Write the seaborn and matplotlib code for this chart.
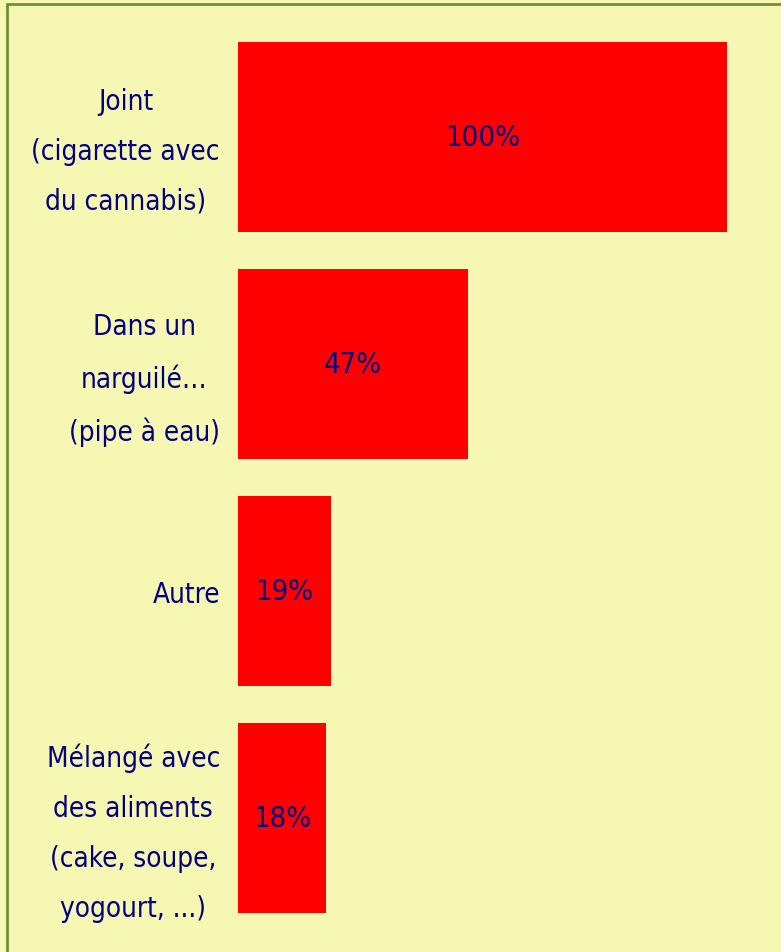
import matplotlib
matplotlib.use("Agg")
import matplotlib.pyplot as plt
from matplotlib import font_manager
import seaborn as sns
import pandas as pd
from matplotlib.patches import Rectangle

categories = [
    "Joint\n(cigarette avec\ndu cannabis)",
    "Dans un\nnarguilé…\n(pipe à eau)",
    "Autre",
    "Mélangé avec\ndes aliments\n(cake, soupe,\nyogourt, ...)",
]
values = [100, 47, 19, 18]
value_labels = ["100%", "47%", "19%", "18%"]

df = pd.DataFrame({"cat": categories, "val": values})

bg = "#f7f7b4"
navy = "#000080"

sns.set_theme(style="white")

# a narrow font if one is there
condensed = [f.name for f in font_manager.fontManager.ttflist
             if f.stretch in ("condensed", "semi-condensed", "extra-condensed")
             or "Narrow" in f.name or "Condensed" in f.name]
family = condensed[0] if condensed else "Liberation Sans"
plt.rcParams["font.family"] = [family, "DejaVu Sans"]

fig = plt.figure(figsize=(7.81, 9.53), dpi=100)
fig.patch.set_facecolor(bg)

# olive frame (only top/left edges fall inside the picture)
fig.patches.append(Rectangle((7.5 / 781, -0.2), 1.5, 1.2 - 4.5 / 953,
                             transform=fig.transFigure, fill=False,
                             edgecolor="#728d38", linewidth=2))

ax = fig.add_axes([238 / 781, 20 / 953, 522 / 781, 909 / 953])
ax.set_facecolor(bg)
sns.barplot(data=df, x="val", y="cat", color="#ff0000", width=0.837,
            saturation=1, linewidth=0, ax=ax)
ax.set_xlim(0, 100 * 522 / 489)
ax.set_ylim(3.5, -0.5)

for bar, lab in zip(ax.patches, value_labels):
    ax.text(bar.get_x() + bar.get_width() / 2, bar.get_y() + bar.get_height() / 2,
            lab, ha="center", va="center", color=navy, fontsize=21,
            fontstretch="condensed")

ax.set_xlabel("")
ax.set_ylabel("")
ax.set_xticks([])
ax.tick_params(axis="y", length=0, pad=13, labelsize=20, labelcolor=navy)
for t in ax.get_yticklabels():
    t.set_multialignment("center")
    t.set_fontstretch("condensed")
    t.set_linespacing(2.0)
for s in ax.spines.values():
    s.set_visible(False)

fig.savefig("out.png", dpi=100, facecolor=bg)
